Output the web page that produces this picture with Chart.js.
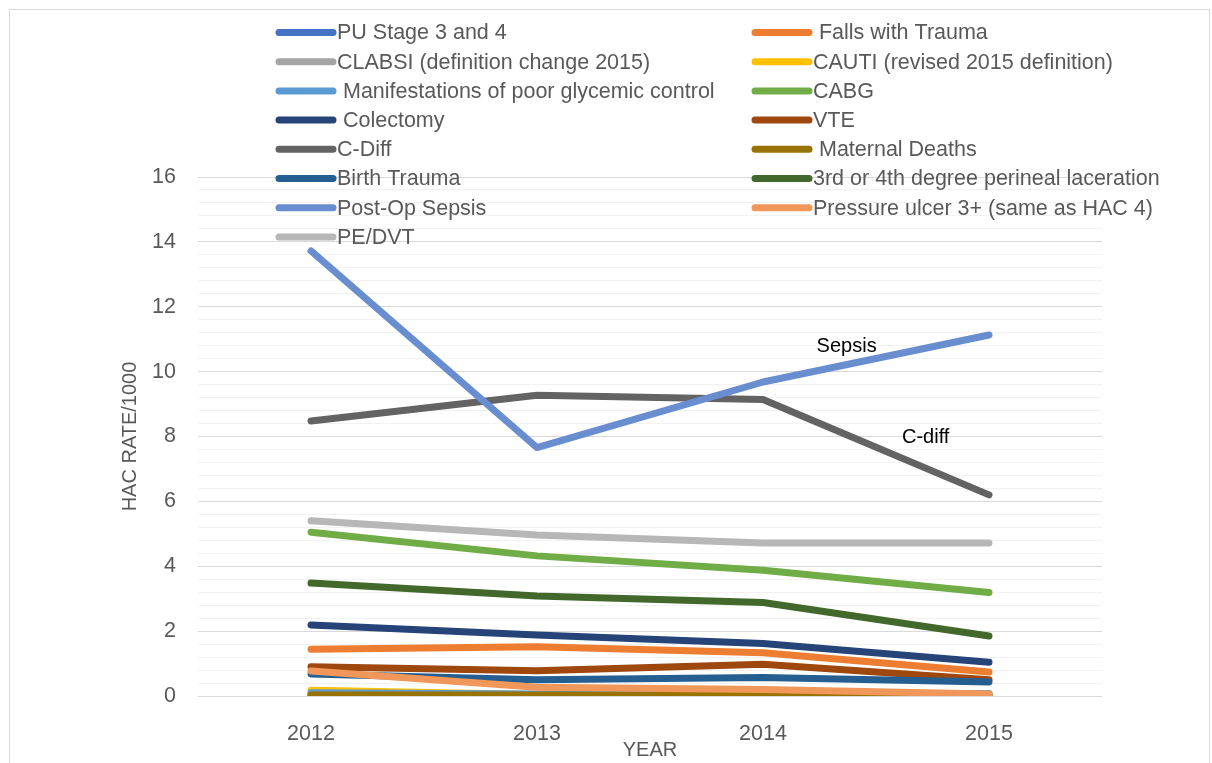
<!DOCTYPE html>
<html>
<head>
<title>HAC Rate per 1000</title>
<script src="https://cdn.jsdelivr.net/npm/chart.js"></script>
<style>
  body { margin: 0; background: #fff; }
</style>
</head>
<body>
<canvas id="hacChart" width="1212" height="763"></canvas>
<script>
// categories
const years = ['2012', '2013', '2014', '2015'];

// series names (legend order = Excel series order)
const seriesNames = [
  'PU Stage 3 and 4', ' Falls with Trauma',
  'CLABSI (definition change 2015)', 'CAUTI (revised 2015 definition)',
  ' Manifestations of poor glycemic control', 'CABG',
  ' Colectomy', 'VTE',
  'C-Diff', ' Maternal Deaths',
  'Birth Trauma', '3rd or 4th degree perineal laceration',
  'Post-Op Sepsis', 'Pressure ulcer 3+ (same as HAC 4)',
  'PE/DVT'
];

const seriesColors = [
  '#4472C4', '#ED7D31', '#A5A5A5', '#FFC000', '#5B9BD5', '#70AD47',
  '#264478', '#9E480E', '#636363', '#997300', '#255E91', '#43682B',
  '#698ED0', '#F1975A', '#B7B7B7'
];

// values (rate per 1000)
const puStage34      = [0.04, 0.04, 0.03, 0.03];
const fallsTrauma    = [1.44, 1.52, 1.33, 0.74];
const clabsi         = [0.05, 0.05, 0.04, 0.04];
const cauti          = [0.18, 0.05, 0.04, 0.06];
const glycemic       = [0.10, 0.06, 0.05, 0.08];
const cabg           = [5.05, 4.32, 3.88, 3.19];
const colectomy      = [2.19, 1.88, 1.62, 1.04];
const vte            = [0.90, 0.78, 0.98, 0.50];
const cDiff          = [8.48, 9.27, 9.14, 6.20];
const maternalDeaths = [0.03, 0.03, 0.02, 0.02];
const birthTrauma    = [0.68, 0.50, 0.57, 0.43];
const perineal       = [3.48, 3.08, 2.88, 1.85];
const postOpSepsis   = [13.72, 7.66, 9.68, 11.13];
const pressureUlcer  = [0.77, 0.27, 0.20, 0.06];
const peDvt          = [5.40, 4.96, 4.72, 4.72];

const seriesValues = [
  puStage34, fallsTrauma, clabsi, cauti, glycemic, cabg, colectomy, vte,
  cDiff, maternalDeaths, birthTrauma, perineal, postOpSepsis, pressureUlcer, peDvt
];

// y axis labels, minor gridlines every fifth
const yLabels = [0, 2, 4, 6, 8, 10, 12, 14, 16];
const yGrid = [];
yLabels.forEach((v, i) => {
  yGrid.push(v);
  if (i < yLabels.length - 1) {
    for (let k = 1; k < 5; k++) yGrid.push(+(v + k * 0.4).toFixed(1));
  }
});
const isMajor = v => yLabels.some(m => Math.abs(m - v) < 1e-6);

// text notes on the plot
const notes = [
  { text: 'Sepsis', at: 2.37, value: 10.76 },
  { text: 'C-diff', at: 2.72, value: 7.98 }
];

const FONT = "'Liberation Sans', Arial, sans-serif";
const GREY = '#595959';

const datasets = seriesValues.map((vals, i) => ({
  label: seriesNames[i],
  data: vals,
  borderColor: seriesColors[i],
  backgroundColor: seriesColors[i],
  borderWidth: 7,
  borderCapStyle: 'round',
  borderJoinStyle: 'round',
  pointRadius: 0,
  pointHoverRadius: 0,
  tension: 0,
  fill: false,
  order: seriesValues.length - i // later series drawn on top, like Excel
}));

// white background + thin frame
const framePlugin = {
  id: 'frame',
  beforeDraw(chart) {
    const ctx = chart.ctx;
    ctx.save();
    ctx.fillStyle = '#fff';
    ctx.fillRect(0, 0, chart.width, chart.height);
    ctx.strokeStyle = '#d9d9d9';
    ctx.lineWidth = 1;
    ctx.strokeRect(9.5, 9.5, 1200, 780);
    ctx.restore();
  }
};

// two-column legend laid over the top of the plot
const legendPlugin = {
  id: 'gridLegend',
  afterDraw(chart) {
    const ctx = chart.ctx;
    ctx.save();
    ctx.font = '21.5px ' + FONT;
    ctx.textBaseline = 'middle';
    ctx.textAlign = 'left';
    chart.data.datasets.forEach((ds, i) => {
      const col = i % 2;
      const row = Math.floor(i / 2);
      const x0 = col ? 755 : 279;
      const y = 32.5 + row * 29.2;
      ctx.strokeStyle = ds.borderColor;
      ctx.lineWidth = 7;
      ctx.lineCap = 'round';
      ctx.beginPath();
      ctx.moveTo(x0, y);
      ctx.lineTo(x0 + 54, y);
      ctx.stroke();
      ctx.fillStyle = GREY;
      ctx.fillText(ds.label, x0 + 58, y + 1);
    });
    ctx.restore();
  }
};

const notesPlugin = {
  id: 'notes',
  afterDatasetsDraw(chart) {
    const ctx = chart.ctx;
    const xs = chart.scales.x, ys = chart.scales.y;
    ctx.save();
    ctx.font = '20px ' + FONT;
    ctx.fillStyle = '#000';
    ctx.textAlign = 'center';
    ctx.textBaseline = 'middle';
    notes.forEach(n => {
      ctx.fillText(n.text, xs.getPixelForValue(n.at), ys.getPixelForValue(n.value));
    });
    ctx.restore();
  }
};

const ctx = document.getElementById('hacChart').getContext('2d');
const chart = new Chart(ctx, {
  type: 'line',
  data: { labels: years, datasets: datasets },
  plugins: [framePlugin, legendPlugin, notesPlugin],
  options: {
    responsive: false,
    animation: false,
    events: [],
    layout: { padding: { top: 177, right: 110, left: 0, bottom: 0 } },
    plugins: {
      legend: { display: false },
      tooltip: { enabled: false }
    },
    scales: {
      x: {
        offset: true,
        grid: { display: false },
        border: { display: false },
        ticks: { color: GREY, font: { family: FONT, size: 21.5 }, padding: 17, maxRotation: 0 },
        title: {
          display: true, text: 'YEAR', color: GREY,
          font: { family: FONT, size: 20 }, padding: { top: 0, bottom: 1 }
        },
        afterFit(axis) { axis.height = 67; }
      },
      y: {
        min: 0,
        max: 16,
        afterBuildTicks(axis) { axis.ticks = yGrid.map(v => ({ value: v })); },
        afterFit(axis) { axis.width = 198; },
        grid: {
          drawTicks: false,
          lineWidth: 1,
          color: c => isMajor(c.tick.value) ? '#d9d9d9' : '#f2f2f2'
        },
        border: { display: false },
        ticks: {
          autoSkip: false,
          padding: 22,
          color: GREY,
          font: { family: FONT, size: 21.5 },
          callback: v => isMajor(v) ? String(Math.round(v)) : ''
        },
        title: {
          display: true, text: 'HAC RATE/1000', color: GREY,
          font: { family: FONT, size: 20 }, padding: { top: 118, bottom: 0 }
        }
      }
    }
  }
});
</script>
</body>
</html>
